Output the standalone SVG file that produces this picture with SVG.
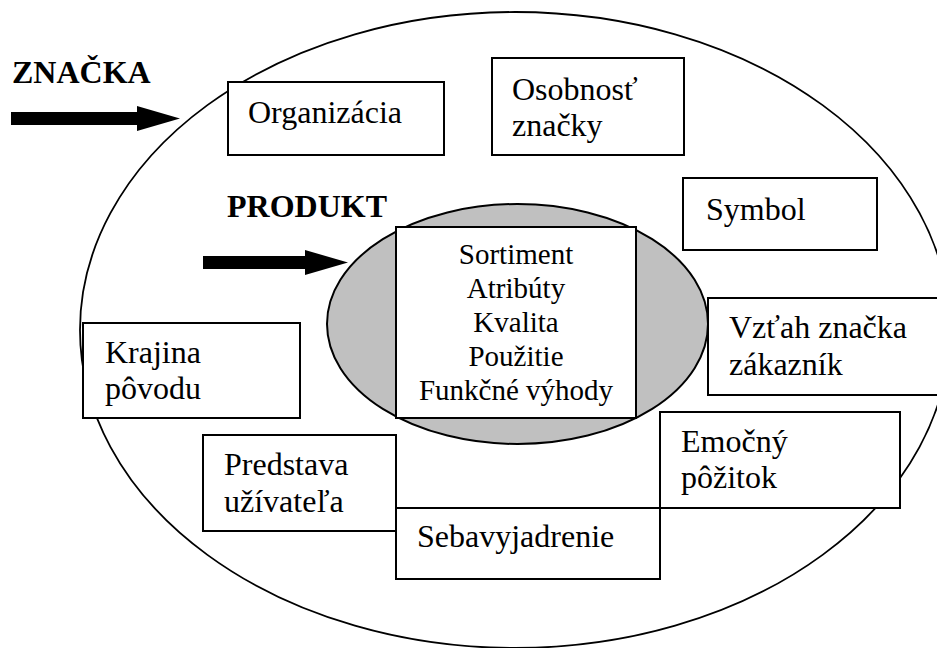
<svg xmlns="http://www.w3.org/2000/svg" width="937" height="648" viewBox="0 0 937 648">
<defs>
<style>
text{font-family:"Liberation Serif","Times New Roman",serif;fill:#000}
.lbl{font-size:32px}
.inner{font-size:29px;text-anchor:middle}
.head{font-size:32px;font-weight:bold}
.box{fill:#fff;stroke:#000;stroke-width:2}
.arrow{stroke:#000;stroke-width:13;fill:none}
</style>
<marker id="blk" markerUnits="userSpaceOnUse" markerWidth="44" markerHeight="26" refX="0" refY="12.5" orient="auto">
<path d="M0,0 L43,12.5 L0,25 Z" fill="#000"/>
</marker>
</defs>
<rect width="937" height="648" fill="#fff"/>
<g id="outer-ellipse">
<ellipse cx="515" cy="330" rx="435" ry="318" fill="none" stroke="#000" stroke-width="1.8"/>
</g>
<g id="inner-ellipse">
<ellipse cx="517.5" cy="324" rx="190.5" ry="120" fill="#c0c0c0" stroke="#000" stroke-width="2"/>
</g>
<g id="produkt-core">
<rect class="box" x="396" y="227" width="240" height="191"/>
<text class="inner" font-family="Liberation Serif" x="516" y="264">Sortiment</text>
<text class="inner" font-family="Liberation Serif" x="516" y="298">Atribúty</text>
<text class="inner" font-family="Liberation Serif" x="516" y="332">Kvalita</text>
<text class="inner" font-family="Liberation Serif" x="516" y="366">Použitie</text>
<text class="inner" font-family="Liberation Serif" x="516" y="400">Funkčné výhody</text>
</g>
<g id="organizacia">
<rect class="box" x="228" y="82" width="216" height="73"/>
<text class="lbl" font-family="Liberation Serif" x="248" y="123">Organizácia</text>
</g>
<g id="osobnost">
<rect class="box" x="492" y="58" width="192" height="97"/>
<text class="lbl" font-family="Liberation Serif" x="512" y="100">Osobnosť</text>
<text class="lbl" font-family="Liberation Serif" x="512" y="136">značky</text>
</g>
<g id="symbol">
<rect class="box" x="683" y="178" width="194" height="72"/>
<text class="lbl" font-family="Liberation Serif" x="706" y="220">Symbol</text>
</g>
<g id="vztah">
<rect class="box" x="708" y="298" width="240" height="97"/>
<text class="lbl" font-family="Liberation Serif" x="729" y="338">Vzťah značka</text>
<text class="lbl" font-family="Liberation Serif" x="729" y="375">zákazník</text>
</g>
<g id="krajina">
<rect class="box" x="83" y="323" width="217" height="95"/>
<text class="lbl" font-family="Liberation Serif" x="105" y="363">Krajina</text>
<text class="lbl" font-family="Liberation Serif" x="105" y="399">pôvodu</text>
</g>
<g id="emocny">
<rect class="box" x="660" y="412" width="240" height="96"/>
<text class="lbl" font-family="Liberation Serif" x="681" y="452">Emočný</text>
<text class="lbl" font-family="Liberation Serif" x="681" y="488">pôžitok</text>
</g>
<g id="predstava">
<rect class="box" x="203" y="435" width="193" height="96"/>
<text class="lbl" font-family="Liberation Serif" x="224" y="475">Predstava</text>
<text class="lbl" font-family="Liberation Serif" x="224" y="512">užívateľa</text>
</g>
<g id="sebavyjadrenie">
<rect class="box" x="396" y="508" width="264" height="71"/>
<text class="lbl" font-family="Liberation Serif" x="417" y="547">Sebavyjadrenie</text>
</g>
<g id="znacka">
<text class="head" font-family="Liberation Serif" x="12" y="83">ZNAČKA</text>
</g>
<g id="produkt">
<text class="head" font-family="Liberation Serif" x="227" y="217">PRODUKT</text>
</g>
<g id="connectors">
<line class="arrow" x1="11" y1="118.5" x2="137" y2="118.5" marker-end="url(#blk)"/>
<line class="arrow" x1="203" y1="262.5" x2="305" y2="262.5" marker-end="url(#blk)"/>
</g>
</svg>
